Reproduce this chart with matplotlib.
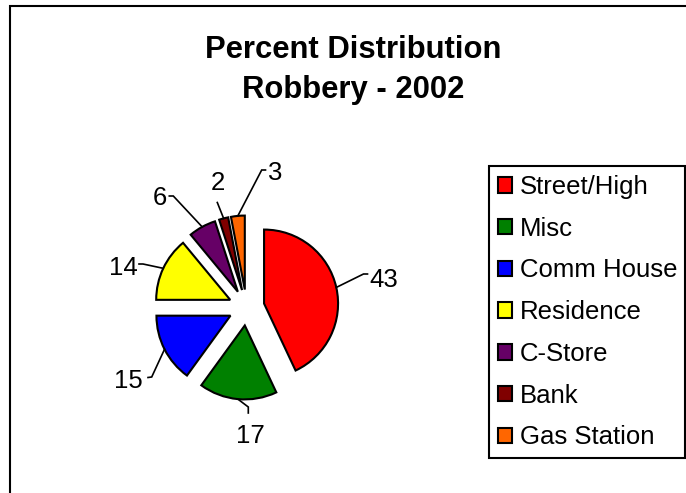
import matplotlib.pyplot as plt
import numpy as np
from matplotlib.patches import Rectangle

plt.rcParams['font.family'] = ['Liberation Sans', 'DejaVu Sans']

# canvas size in pixels (dpi 100)
W, H = 686, 493

locations = ["Street/High", "Misc", "Comm House", "Residence", "C-Store", "Bank", "Gas Station"]
percents = [43, 17, 15, 14, 6, 2, 3]
colors = ["#FF0000", "#008000", "#0000FF", "#FFFF00", "#660066", "#800000", "#FF6600"]

# pie placement (pixels from top-left)
pie_cx, pie_cy, pie_r = 246.5, 307.5, 74
explode_px = 18

# value labels: text anchor, alignment, leader elbow and tail (pixels from top-left)
label_xy = [(369, 287), (250, 443), (143, 388), (138, 275), (167, 205), (218, 190), (268, 180)]
label_ha = ["left", "center", "right", "right", "right", "center", "left"]
elbows = [(363.5, 274), (248.3, 407), (151.7, 377), (143, 264), (173.3, 196), (217.3, 202.5), (261.7, 170)]
tails = [(367.5, 274), (248.3, 413), (148, 377.5), (139, 264), (169.3, 196), (217.3, 202.5), (265.5, 170)]


def flip(p):
    return p[0], H - p[1]


fig = plt.figure(figsize=(W / 100, H / 100), dpi=100)
ax = fig.add_axes([0, 0, 1, 1])

# explode is in data units here (pixels)
wedges, _ = ax.pie(percents, colors=colors, startangle=90, counterclock=False,
                   center=(pie_cx, H - pie_cy), radius=pie_r,
                   explode=[explode_px] * len(percents),
                   wedgeprops=dict(edgecolor='black', linewidth=1.5, joinstyle='miter'))

ax.set_xlim(0, W)
ax.set_ylim(0, H)
ax.set_aspect('auto')
ax.axis('off')

# leader lines start on the arc at each wedge's mid angle
for w, val, txt, ha, el, tl in zip(wedges, percents, label_xy, label_ha, elbows, tails):
    mid = np.deg2rad((w.theta1 + w.theta2) / 2)
    sx = w.center[0] + w.r * np.cos(mid)
    sy = w.center[1] + w.r * np.sin(mid)
    ex, ey = flip(el)
    tx, ty = flip(tl)
    ax.plot([sx, ex, tx], [sy, ey, ty], color='black', lw=1.2, solid_joinstyle='miter')
    lx, ly = flip(txt)
    ax.text(lx, ly, str(val), ha=ha, va='baseline', fontsize=18.5)

# title
fig.text(353.5 / W, 1 - 58.3 / H, "Percent Distribution", ha='center', va='baseline',
         fontsize=22.3, fontweight='bold')
fig.text(353.5 / W, 1 - 98.3 / H, "Robbery - 2002", ha='center', va='baseline',
         fontsize=22.3, fontweight='bold')

# legend box spans x 489..685 px
leg = ax.legend(wedges, locations, loc='upper left', mode='expand',
                bbox_to_anchor=(489 / W, 1 - 166 / H - 0.5, 196 / W, 0.5),
                bbox_transform=fig.transFigure,
                borderaxespad=0, fontsize=18.5, fancybox=False, framealpha=1,
                handlelength=0.55, handleheight=0.55, handletextpad=0.3,
                labelspacing=0.69, borderpad=0.35)
leg.get_frame().set_edgecolor('black')
leg.get_frame().set_linewidth(1.5)

# chart area border, cut off at the right and bottom
ax.add_patch(Rectangle((9.5, -20), W + 20, H - 5.7 + 20, fill=False,
                       edgecolor='black', lw=1.5, clip_on=False))

fig.savefig("out.png", dpi=100)
